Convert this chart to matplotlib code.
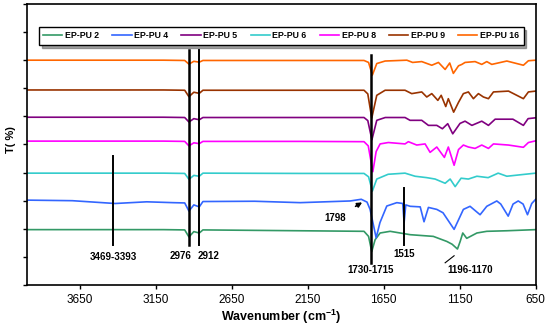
import numpy as np
import matplotlib
matplotlib.use("Agg")
import matplotlib.pyplot as plt

plt.rcParams['font.family'] = ['Liberation Sans', 'DejaVu Sans']
plt.rcParams['mathtext.fontset'] = 'custom'
plt.rcParams['mathtext.rm'] = 'Liberation Sans'
plt.rcParams['mathtext.bf'] = 'Liberation Sans:bold'

# spectra: (wavenumber, T offset-stacked)
pu2 = [(4000, 1.97), (3100, 1.97), (2960, 1.96), (2932, 1.71), (2900, 1.90), (2864, 1.85),
       (2840, 1.96), (2200, 1.93), (1780, 1.91), (1750, 1.73), (1729, 1.19), (1707, 1.61),
       (1674, 1.85), (1608, 1.91), (1542, 1.85), (1476, 1.79), (1324, 1.73), (1235, 1.55),
       (1200, 1.45), (1165, 1.28), (1147, 1.55), (1130, 1.85), (1104, 1.66), (1037, 1.85),
       (972, 1.91), (840, 1.93), (650, 1.97)]

pu4 = [(4000, 3.02), (3700, 3.00), (3418, 2.90), (3210, 2.96), (3037, 2.93), (2960, 2.92),
       (2932, 2.63), (2900, 2.85), (2864, 2.78), (2840, 2.97), (2500, 2.98), (2200, 2.93),
       (1871, 2.99), (1798, 3.05), (1760, 2.95), (1740, 2.69), (1700, 1.68), (1675, 2.22),
       (1630, 2.81), (1564, 2.93), (1525, 2.90), (1516, 2.22), (1505, 2.85), (1476, 2.80),
       (1410, 2.78), (1385, 2.25), (1356, 2.76), (1301, 2.69), (1260, 2.57), (1187, 1.98),
       (1126, 2.69), (1082, 2.80), (1016, 2.50), (972, 2.80), (906, 2.99), (880, 2.88),
       (831, 2.45), (799, 2.88), (765, 2.99), (733, 2.88), (704, 2.50), (676, 2.90),
       (650, 3.05)]

pu5 = [(4000, 5.97), (3100, 5.97), (2960, 5.96), (2932, 5.80), (2900, 5.92), (2864, 5.88),
       (2840, 5.96), (2200, 5.96), (1780, 5.96), (1755, 5.85), (1728, 5.17), (1696, 5.86),
       (1640, 5.96), (1510, 5.96), (1477, 5.86), (1400, 5.86), (1356, 5.68), (1301, 5.68),
       (1264, 5.56), (1229, 5.74), (1196, 5.38), (1148, 5.75), (1115, 5.83), (1070, 5.68),
       (1005, 5.83), (961, 5.68), (917, 5.90), (800, 5.90), (731, 5.68), (700, 5.92),
       (650, 5.95)]

pu6 = [(4000, 3.98), (3100, 3.98), (2960, 3.97), (2932, 3.76), (2900, 3.90), (2864, 3.87),
       (2840, 3.98), (2200, 3.97), (1780, 3.97), (1750, 3.85), (1725, 3.34), (1696, 3.77),
       (1621, 3.94), (1510, 3.98), (1444, 3.87), (1367, 3.82), (1312, 3.77), (1246, 3.62),
       (1213, 3.77), (1180, 3.50), (1141, 3.80), (1093, 3.77), (1037, 3.87), (963, 3.82),
       (897, 3.98), (840, 3.87), (720, 3.94), (650, 3.98)]

pu8 = [(4000, 5.12), (3100, 5.12), (2960, 5.11), (2932, 4.95), (2900, 5.06), (2864, 5.03),
       (2840, 5.11), (2200, 5.11), (1780, 5.10), (1752, 4.95), (1722, 4.03), (1700, 4.75),
       (1674, 5.02), (1620, 5.07), (1510, 5.02), (1488, 5.10), (1433, 4.98), (1378, 5.02),
       (1345, 4.72), (1301, 4.91), (1251, 4.54), (1225, 4.91), (1187, 4.26), (1158, 4.82),
       (1126, 4.98), (1093, 4.91), (1049, 4.86), (1005, 4.98), (961, 4.86), (928, 5.02),
       (829, 4.98), (731, 4.90), (698, 5.07), (650, 5.13)]

pu9 = [(4000, 6.94), (3100, 6.94), (2960, 6.93), (2932, 6.70), (2900, 6.86), (2864, 6.82),
       (2840, 6.93), (2200, 6.93), (1780, 6.93), (1755, 6.80), (1729, 5.94), (1696, 6.75),
       (1641, 6.93), (1510, 6.93), (1466, 6.81), (1400, 6.87), (1367, 6.69), (1334, 6.81),
       (1294, 6.57), (1272, 6.75), (1242, 6.35), (1225, 6.63), (1190, 6.15), (1158, 6.50),
       (1126, 6.81), (1093, 6.87), (1060, 6.63), (1027, 6.81), (994, 6.69), (961, 6.63),
       (928, 6.87), (829, 6.90), (731, 6.63), (698, 6.87), (650, 6.90)]

pu16 = [(4000, 8.00), (3100, 8.00), (2960, 7.99), (2932, 7.86), (2900, 7.96), (2864, 7.93),
        (2840, 7.99), (2200, 7.99), (1780, 7.99), (1750, 7.92), (1725, 7.47), (1696, 7.88),
        (1641, 7.97), (1498, 8.00), (1460, 7.92), (1400, 7.95), (1334, 7.82), (1290, 7.92),
        (1246, 7.67), (1216, 7.90), (1192, 7.53), (1158, 7.80), (1136, 7.85), (1115, 7.92),
        (1049, 7.95), (1005, 7.85), (972, 7.95), (939, 7.85), (840, 7.97), (731, 7.82),
        (698, 7.98), (650, 8.00)]

series = [("EP-PU 2", pu2, "#339966"), ("EP-PU 4", pu4, "#3366FF"),
          ("EP-PU 5", pu5, "#800080"), ("EP-PU 6", pu6, "#33CCCC"),
          ("EP-PU 8", pu8, "#FF00FF"), ("EP-PU 9", pu9, "#993300"),
          ("EP-PU 16", pu16, "#FF6600")]

# band marker lines: (wavenumber, y bottom, y top, width)
bands = [(3431, 1.43, 4.59, 1.4), (2932, 1.43, 8.35, 1.8), (2864, 1.43, 8.35, 1.4),
         (1735, 0.79, 8.20, 1.8), (1516, 1.43, 3.44, 1.4)]
band_labels = [("3469-3393", 3431, 1.0), ("2976", 2990, 1.03), ("2912", 2805, 1.03),
               ("1730-1715", 1735, 0.54), ("1515", 1516, 1.11), ("1196-1170", 1082, 0.54)]

fig = plt.figure(figsize=(5.5, 3.32), dpi=100)
ax = fig.add_axes([0.0485, 0.1416, 0.9255, 0.8464])

for name, pts, col in series:
    d = np.array(pts)
    ax.plot(d[:, 0], d[:, 1], color=col, lw=1.2, label=name)

for wn, y0, y1, lw in bands:
    ax.plot([wn, wn], [y0, y1], color='black', lw=lw, zorder=5)

for txt, wn, y in band_labels:
    ax.text(wn, y, txt, ha='center', va='center', fontsize=7, fontweight='bold')

ax.annotate("1798", xy=(1792, 2.94), xytext=(1968, 2.37), fontsize=7, fontweight='bold',
            ha='center', va='center',
            arrowprops=dict(arrowstyle='-|>', color='black', lw=1.2, mutation_scale=7,
                            shrinkA=6, shrinkB=0))
ax.plot([1246, 1187], [0.79, 1.04], color='black', lw=0.8)

ax.set_xlim(4000, 650)
ax.set_ylim(0, 10)
ax.set_xticks([3650, 3150, 2650, 2150, 1650, 1150, 650])
ax.set_yticks(range(0, 11))
ax.set_yticklabels([])
ax.tick_params(axis='x', labelsize=8.5, direction='out', length=3, width=1)
ax.tick_params(axis='y', direction='out', length=3, width=1)
for s in ax.spines.values():
    s.set_linewidth(1.2)

ax.set_xlabel("Wavenumber (cm$^{\\mathbf{-1}}$)", fontsize=9, fontweight='bold', labelpad=1)
ax.set_ylabel("T( %)", fontsize=8, fontweight='bold')
ax.yaxis.set_label_coords(-0.02, 0.516)

leg = ax.legend(loc='upper center', bbox_to_anchor=(0.5, 0.918), ncol=7,
                prop={'weight': 'bold', 'size': 6.3}, frameon=True, fancybox=False,
                shadow=True, edgecolor='black', handlelength=2.2, handletextpad=0.3,
                columnspacing=1.5, borderaxespad=0, borderpad=0.5)
leg.get_frame().set_linewidth(1.0)

fig.savefig("out.png", dpi=100)
